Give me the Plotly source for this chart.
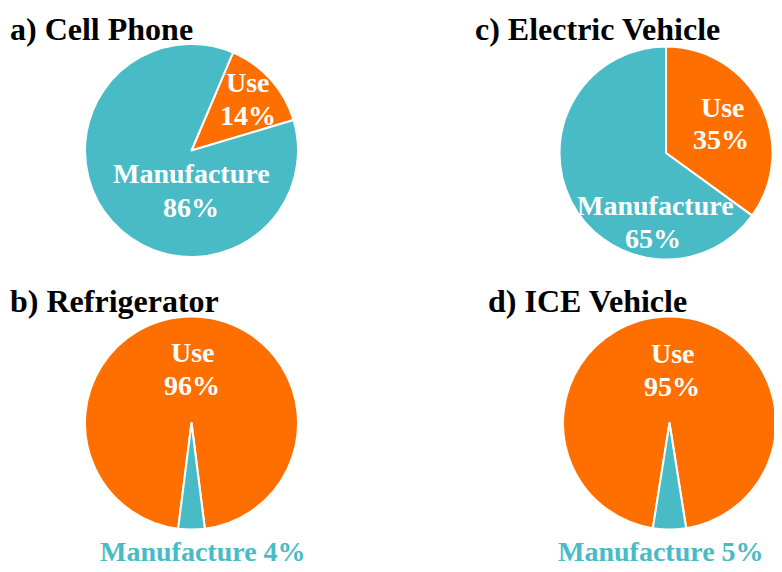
import plotly.graph_objects as go

# ---- data ----
panel_titles = ["a) Cell Phone", "c) Electric Vehicle", "b) Refrigerator", "d) ICE Vehicle"]
slice_labels = ["Use", "Manufacture"]
cell_phone = [14, 86]
electric_vehicle = [35, 65]
refrigerator = [96, 4]
ice_vehicle = [95, 5]
series = [cell_phone, electric_vehicle, refrigerator, ice_vehicle]

ORANGE = "#FF6F00"
TEAL = "#48BBC6"
FONT = "Liberation Serif, Times New Roman, serif"
OFF = 8                      # page body margin
W, H = 782 - OFF, 572 - 2 * OFF

# layout geometry (window pixels): pie centre, radius, start rotation
centers = [(191.5, 150.5), (666.0, 153.0), (191.5, 423.0), (669.5, 423.0)]
radius = 106.5
rotations = [23, 0, 187.2, 189]
title_pos = [(8, 29), (473, 29), (8, 301), (486, 301)]
# label line centres (window pixels)
use_lbl = [((248, 82), (248, 115)), ((723, 107), (721, 140)),
           ((193, 352), (192, 385)), ((673, 353), (672, 386))]
man_lbl = [((191, 174), (191, 207)), ((655, 205), (653, 238)),
           ((203, 551), None), ((661, 551), None)]


def px(x):
    return min(max((x - OFF) / W, 0), 1)


def py(y):
    return min(max(1 - (y - OFF) / H, 0), 1)


fig = go.Figure()
annotations = []


def add_text(text, pos, size, color, anchor="center"):
    annotations.append(dict(
        text=f"<b>{text}</b>", x=px(pos[0]), y=py(pos[1]),
        xref="paper", yref="paper", xanchor=anchor, yanchor="middle",
        showarrow=False, font=dict(family=FONT, size=size, color=color)))


for i, vals in enumerate(series):
    cx, cy = centers[i]
    fig.add_trace(go.Pie(
        labels=slice_labels,
        values=vals,
        sort=False,
        direction="clockwise",
        rotation=rotations[i],
        marker=dict(colors=[ORANGE, TEAL], line=dict(color="white", width=2)),
        textinfo="none",
        hoverinfo="label+percent",
        showlegend=False,
        domain=dict(x=[px(cx - radius), px(cx + radius)],
                    y=[py(cy + radius), py(cy - radius)]),
    ))
    add_text(panel_titles[i], title_pos[i], 32, "black", anchor="left")
    add_text(slice_labels[0], use_lbl[i][0], 28, "white")
    add_text(f"{vals[0]}%", use_lbl[i][1], 28, "white")
    m1, m2 = man_lbl[i]
    if m2 is not None:
        add_text(slice_labels[1], m1, 28, "white")
        add_text(f"{vals[1]}%", m2, 28, "white")
    else:
        add_text(f"{slice_labels[1]} {vals[1]}%", m1, 28, TEAL)

fig.update_layout(
    width=W, height=H,
    margin=dict(l=0, r=0, t=0, b=0),
    paper_bgcolor="white", plot_bgcolor="white",
    annotations=annotations,
)
fig.write_html("out.html")
